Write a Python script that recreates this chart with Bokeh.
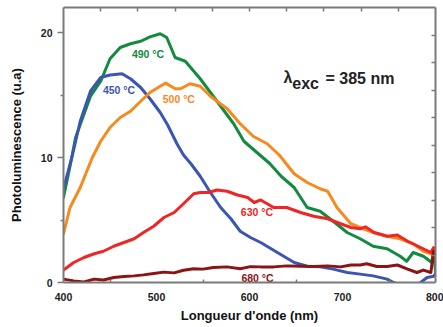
from bokeh.plotting import figure
from bokeh.models import Range1d, LinearAxis, FixedTicker, ColumnDataSource
from bokeh.core.properties import value
from bokeh.embed import file_html
from bokeh.resources import INLINE

# ---------------- data ----------------
green_nm = [400, 407, 413, 429, 440, 450, 461, 472, 483, 493, 504, 511, 520, 531, 547, 565, 583, 594,
            608, 622, 634, 648, 662, 676, 690, 705, 719, 733, 748, 762, 769, 776, 787, 796, 798, 800]
green = [6.8, 9.3, 11.6, 14.9, 16.1, 17.9, 18.8, 19.1, 19.3, 19.65, 19.9, 19.6, 18.0, 17.7, 16.3, 14.5,
         12.7, 11.3, 10.4, 9.5, 8.5, 7.6, 6.0, 5.7, 4.9, 4.0, 3.5, 2.9, 2.7, 2.1, 1.7, 2.4, 2.1, 1.6, 2.6, 0.8]

blue_nm = [400, 409, 418, 429, 440, 450, 463, 472, 483, 493, 504, 512, 522, 529, 537, 547, 558, 569,
           580, 590, 601, 612, 630, 648, 662, 676, 690, 705, 719, 733, 748, 755, 765, 775, 784, 791, 798, 800]
blue = [7.5, 10.0, 12.9, 15.3, 16.4, 16.6, 16.7, 16.3, 15.6, 14.7, 13.6, 12.6, 11.1, 10.2, 9.5, 8.5, 7.2,
        6.0, 5.1, 4.1, 3.6, 3.2, 2.4, 1.6, 1.3, 1.25, 1.07, 0.8, 0.67, 0.53, 0.27, 0.0, -0.3, -0.3, 0.0,
        0.4, 0.5, 0.7]

orange_nm = [400, 407, 418, 431, 440, 450, 461, 472, 483, 493, 504, 510, 520, 526, 536, 547, 558, 565,
             576, 590, 604, 619, 632, 648, 662, 676, 684, 694, 709, 719, 733, 748, 762, 776, 787, 795, 800]
orange = [3.9, 6.0, 7.6, 10.0, 11.3, 12.4, 13.2, 13.7, 14.5, 15.2, 15.7, 15.95, 15.5, 15.5, 15.9, 15.7,
          14.9, 14.5, 13.9, 12.7, 11.7, 11.1, 10.2, 8.7, 8.0, 7.5, 7.3, 6.0, 4.7, 4.4, 4.0, 3.7, 3.5,
          3.1, 2.5, 2.3, 2.1]

red_nm = [400, 411, 422, 433, 443, 454, 465, 476, 486, 497, 508, 519, 529, 540, 547, 556, 565, 576, 587,
          598, 605, 612, 626, 640, 655, 669, 684, 698, 709, 719, 725, 734, 748, 759, 770, 784, 795, 798, 800]
red = [1.0, 1.6, 2.0, 2.3, 2.5, 2.9, 3.2, 3.5, 4.0, 4.5, 5.2, 5.6, 6.3, 7.1, 7.2, 7.2, 7.4, 7.3, 7.0,
       6.8, 6.4, 6.6, 6.0, 6.0, 5.6, 5.3, 5.1, 4.7, 4.4, 4.3, 4.45, 4.0, 3.7, 3.8, 3.3, 2.8, 2.4, 2.8, 2.2]

dred_nm = [400, 411, 422, 433, 443, 454, 465, 476, 486, 497, 508, 519, 529, 540, 550, 561, 576, 590,
           601, 612, 626, 640, 655, 669, 684, 698, 709, 719, 726, 737, 748, 759, 770, 780, 787, 795, 798, 800]
dred = [0.27, 0.13, 0.05, 0.27, 0.2, 0.4, 0.48, 0.53, 0.61, 0.72, 0.83, 0.77, 0.98, 1.1, 1.07, 1.2,
        1.25, 1.1, 1.27, 1.25, 1.25, 1.33, 1.3, 1.28, 1.33, 1.25, 1.4, 1.4, 1.5, 1.28, 1.28, 1.4, 1.07,
        0.8, 0.99, 0.8, 2.5, 2.3]

series_names = ["490 °C", "450 °C", "500 °C", "630 °C", "680 °C"]
series_colors = ["#138a3f", "#3b56b0", "#f68a1e", "#ee2626", "#8b1414"]
label_x = [490.9, 459.7, 524.0, 608.0, 608.6]
label_y = [18.3, 15.4, 14.7, 5.65, 0.37]

x_ticks = [400, 500, 600, 700, 800]
x_minor = [450, 550, 650, 750]
y_ticks = [0, 10, 20]
y_minor = [5, 15]
top_ticks = [440, 480, 520, 560, 600, 640, 680, 720, 760]
right_ticks = [2.2, 4.4, 6.6, 8.8, 11.0, 13.2, 15.4, 17.6, 19.8]

# ---------------- figure ----------------
AXC = "#7a7a7a"
FONT = "Liberation Sans"

p = figure(width=443, height=326, output_backend="svg", toolbar_location=None,
           x_range=Range1d(400, 800), y_range=Range1d(0, 22),
           x_axis_location=None, y_axis_location=None,
           min_border_left=63, min_border_right=8, min_border_top=7, min_border_bottom=44)
p.outline_line_color = None
p.grid.visible = False
p.background_fill_color = "white"
p.border_fill_color = "white"

def style(ax):
    ax.axis_line_color = AXC
    ax.axis_line_width = 2
    ax.major_tick_line_color = AXC
    ax.minor_tick_line_color = AXC
    ax.major_tick_line_width = 1.5
    ax.minor_tick_line_width = 1.5
    ax.major_label_text_font = FONT
    ax.major_label_text_font_style = "bold"
    ax.major_label_text_font_size = "10.5px"
    ax.major_label_text_color = "#222222"
    ax.axis_label_text_font = FONT
    ax.axis_label_text_font_style = "bold"
    ax.axis_label_text_font_size = "13px"
    ax.axis_label_text_color = "#111111"

xb = LinearAxis(axis_label="Longueur d'onde (nm)",
                ticker=FixedTicker(ticks=x_ticks, minor_ticks=x_minor))
style(xb)
xb.major_tick_in = 0
xb.major_tick_out = 0
xb.minor_tick_in = 3
xb.minor_tick_out = 0
xb.major_label_standoff = 10
xb.axis_label_standoff = 4
p.add_layout(xb, "below")

yl = LinearAxis(axis_label="Photoluminescence (u.a)",
                ticker=FixedTicker(ticks=y_ticks, minor_ticks=y_minor))
style(yl)
yl.major_tick_in = 0
yl.major_tick_out = 6
yl.minor_tick_in = 0
yl.minor_tick_out = 3
yl.major_label_standoff = 5
yl.axis_label_standoff = 14
p.add_layout(yl, "left")

xt = LinearAxis(ticker=FixedTicker(ticks=top_ticks, minor_ticks=[]))
style(xt)
xt.major_tick_in = 4
xt.major_tick_out = 0
xt.major_label_text_font_size = "0px"
xt.major_label_standoff = 0
xt.major_label_overrides = {t: "" for t in top_ticks}
p.add_layout(xt, "above")

yr = LinearAxis(ticker=FixedTicker(ticks=right_ticks, minor_ticks=[]))
style(yr)
yr.major_tick_in = 4
yr.major_tick_out = 0
yr.major_label_text_font_size = "0px"
yr.major_label_standoff = 0
yr.major_label_overrides = {t: "" for t in right_ticks}
p.add_layout(yr, "right")

# ---------------- curves ----------------
xs = [green_nm, blue_nm, orange_nm, red_nm, dred_nm]
ys = [green, blue, orange, red, dred]
for xx, yy, c in zip(xs, ys, series_colors):
    p.line(xx, yy, line_color=c, line_width=3, line_join="round", line_cap="round")

src = ColumnDataSource(dict(x=label_x, y=label_y, t=series_names, c=series_colors))
p.text(x="x", y="y", text="t", text_color="c", source=src, text_font=value(FONT),
       text_font_style="bold", text_font_size="10.5px", text_align="center",
       text_baseline="middle")

# excitation annotation
p.text(x=[636.6], y=[16.4], text=["λ"], text_font=value(FONT), text_font_style="bold",
       text_font_size="16px", text_align="left", text_baseline="middle", text_color="#222222")
p.text(x=[646.0], y=[15.95], text=["exc"], text_font=value(FONT), text_font_style="bold",
       text_font_size="16px", text_align="left", text_baseline="middle", text_color="#222222")
p.text(x=[681.7], y=[16.3], text=["= 385 nm"], text_font=value(FONT), text_font_style="bold",
       text_font_size="16px", text_align="left", text_baseline="middle", text_color="#222222")

open("out.html", "w").write(file_html(p, INLINE))
